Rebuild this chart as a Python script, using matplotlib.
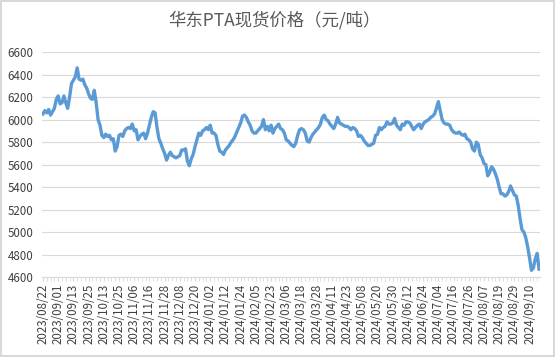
import matplotlib.pyplot as plt
from matplotlib.ticker import MultipleLocator

# daily spot price, yuan/ton (one value per trading day)
prices = [
    6050, 6080, 6060, 6090, 6040, 6070, 6100, 6180, 6210, 6140,
    6150, 6210, 6150, 6100, 6200, 6320, 6350, 6380, 6460, 6360,
    6350, 6360, 6310, 6280, 6230, 6190, 6180, 6260, 6150, 6000,
    5950, 5860, 5840, 5870, 5850, 5860, 5820, 5830, 5720, 5760,
    5860, 5870, 5850, 5900, 5920, 5930, 5920, 5960, 5900, 5910,
    5820, 5850, 5870, 5880, 5830, 5880, 5950, 6020, 6070, 6060,
    5930, 5830, 5790, 5740, 5700, 5640, 5680, 5710, 5680, 5670,
    5660, 5670, 5680, 5730, 5730, 5740, 5630, 5590, 5650, 5690,
    5760, 5820, 5880, 5860, 5900, 5910, 5930, 5910, 5950, 5880,
    5880, 5860, 5780, 5720, 5710, 5690, 5730, 5750, 5770, 5800,
    5820, 5850, 5890, 5930, 5970, 6030, 6040, 6020, 5980, 5950,
    5900, 5880, 5880, 5900, 5920, 5940, 6000, 5910, 5940, 5900,
    5950, 5880, 5920, 5940, 5960, 5920, 5910, 5880, 5820, 5810,
    5790, 5770, 5760, 5790, 5860, 5910, 5920, 5910, 5880, 5810,
    5800, 5840, 5870, 5890, 5910, 5930, 5960, 6020, 6040, 6000,
    5990, 5960, 5940, 5920, 5960, 6020, 5970, 5960, 5950, 5940,
    5940, 5930, 5910, 5930, 5920, 5900, 5850, 5860, 5840, 5810,
    5790, 5770, 5770, 5780, 5790, 5860, 5870, 5930, 5910, 5930,
    5940, 5980, 5960, 5960, 5970, 6010, 5950, 5930, 5910, 5960,
    5950, 5980, 5980, 5970, 5940, 5910, 5930, 5950, 5960, 5920,
    5960, 5980, 5990, 6000, 6020, 6030, 6050, 6100, 6160, 6080,
    6000, 5970, 5960, 5960, 5950, 5910, 5890, 5880, 5880, 5890,
    5870, 5860, 5870, 5830, 5820, 5800, 5740, 5720, 5800, 5780,
    5690, 5660, 5610, 5600, 5500, 5530, 5580, 5560, 5520, 5470,
    5400, 5340, 5340, 5320, 5330, 5360, 5410, 5370, 5330, 5320,
    5240, 5120, 5020, 5000, 4950, 4870, 4770, 4660, 4680, 4760,
    4810, 4670,
]

# category labels shown on the axis (every 8th trading day)
date_labels = [
    "2023/08/22", "2023/09/01", "2023/09/13", "2023/09/25", "2023/10/13",
    "2023/10/25", "2023/11/06", "2023/11/16", "2023/11/28", "2023/12/08",
    "2023/12/20", "2024/01/02", "2024/01/12", "2024/01/24", "2024/02/05",
    "2024/02/23", "2024/03/06", "2024/03/18", "2024/03/28", "2024/04/11",
    "2024/04/23", "2024/05/08", "2024/05/20", "2024/05/30", "2024/06/12",
    "2024/06/24", "2024/07/04", "2024/07/16", "2024/07/26", "2024/08/07",
    "2024/08/19", "2024/08/29", "2024/09/10",
]
label_step = 8

title = "华东PTA现货价格（元/吨）"


def main():
    plt.rcParams['font.family'] = ['Noto Sans CJK SC', 'DejaVu Sans']

    fig = plt.figure(figsize=(5.55, 3.57), dpi=100)
    fig.patch.set_edgecolor('#D9D9D9')
    fig.patch.set_linewidth(1.5)
    ax = fig.add_axes([0.0757, 0.224, 0.8973, 0.630])

    x = range(len(prices))
    ax.plot(x, prices, color='#5B9BD5', linewidth=2.4, solid_joinstyle='round', zorder=3)

    ax.set_ylim(4600, 6600)
    ax.yaxis.set_major_locator(MultipleLocator(200))
    ax.grid(axis='y', color='#D9D9D9', linewidth=0.8, zorder=0)
    ax.set_xlim(-0.5, len(prices) - 0.5)

    ax.set_xticks(range(0, len(date_labels) * label_step, label_step))
    ax.set_xticklabels(date_labels, rotation=90, fontsize=8.3, color='#404040')
    ax.xaxis.set_minor_locator(MultipleLocator(2))
    ax.tick_params(axis='x', which='both', length=3, color='#D9D9D9', pad=2)
    ax.tick_params(axis='y', length=0, labelsize=8.3, labelcolor='#404040', pad=6)

    for side in ('top', 'right', 'left'):
        ax.spines[side].set_visible(False)
    ax.spines['bottom'].set_color('#D9D9D9')

    fig.text(0.495, 0.945, title, ha='center', va='center', fontsize=12.5, color='#595959')

    fig.savefig('out.png', dpi=100)


if __name__ == '__main__':
    main()
